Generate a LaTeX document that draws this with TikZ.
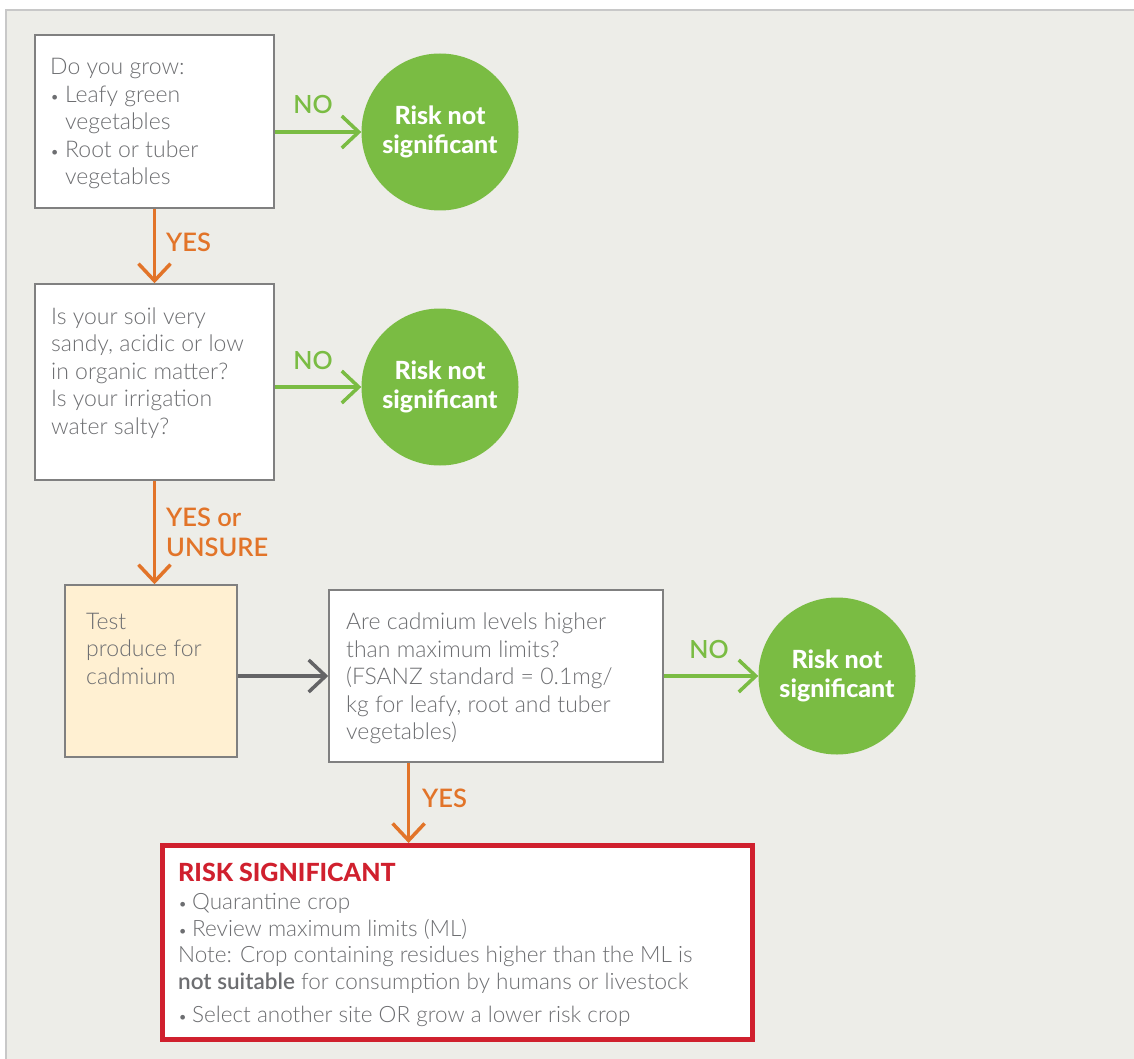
\documentclass[tikz,border=0pt]{standalone}
\usepackage{fontspec}
\setmainfont{Lato}
\newfontfamily\lightfont{Lato Light}
\newfontfamily\semifont{Lato Semibold}
\newfontfamily\heavyfont{Lato Heavy}
\usetikzlibrary{arrows.meta}
\definecolor{bgc}{RGB}{237,237,232}
\definecolor{panelline}{RGB}{200,200,200}
\definecolor{boxline}{RGB}{128,128,128}
\definecolor{txtgray}{RGB}{109,110,113}
\definecolor{grn}{RGB}{122,188,67}
\definecolor{org}{RGB}{226,116,41}
\definecolor{cream}{RGB}{255,240,210}
\definecolor{redc}{RGB}{208,32,46}
\definecolor{arrgray}{RGB}{100,100,102}
\tikzset{
  qbox/.style={draw=boxline, line width=1.5pt, fill=white, rectangle, inner sep=0pt},
  body/.style={text=txtgray, font=\lightfont\fontsize{23}{27.4}\selectfont, align=left, inner sep=0pt, anchor=base west},
  okcircle/.style={circle, fill=grn, minimum size=157pt, inner sep=0pt, text=white, align=center,
     font=\heavyfont\fontsize{25}{29.5}\selectfont},
  conn/.style={line width=3.5pt, -{Straight Barb[length=17pt, width=32pt, line width=3.5pt]}},
  nolab/.style={text=grn, font=\semifont\fontsize{25}{29}\selectfont, inner sep=0pt},
  yeslab/.style={text=org, font=\semifont\fontsize{25.5}{30}\selectfont, inner sep=0pt, align=left},
}
\newcommand{\bul}[1]{\makebox[#1][l]{\fontsize{16}{16}\selectfont•}}
\begin{document}
\begin{tikzpicture}[x=1pt,y=-1pt]
\useasboundingbox (0,0) rectangle (1134,1059);
\fill[white] (0,0) rectangle (1134,1059);
\fill[bgc] (6,10) rectangle (1134,1059);
\draw[panelline, line width=1.5pt] (6,1059) -- (6,10) -- (1134,10);

% boxes
\node[qbox, minimum width=239pt, minimum height=173pt] (q1) at (154.5,121.5) {};
\node[qbox, minimum width=239pt, minimum height=196pt] (q2) at (154.5,382) {};
\node[qbox, fill=cream, minimum width=172pt, minimum height=172pt] (q3) at (151,671) {};
\node[qbox, minimum width=334pt, minimum height=172pt] (q4) at (496,676) {};
\node[draw=redc, line width=5pt, fill=white, rectangle, inner sep=0pt, minimum width=590pt, minimum height=194pt] (rs) at (457.5,942.5) {};

% box texts (anchor = baseline of the last line)
\node[body] (t1) at (50,184.6) {Do you grow:\\
\bul{15pt}Leafy green\\
\hspace*{15pt}vegetables\\
\bul{15pt}Root or tuber\\
\hspace*{15pt}vegetables};
\node[body] (t2) at (51,434.1) {Is your soil very\\sandy, acidic or low\\in organic matter?\\Is your irrigation\\water salty?};
\node[body] (t3) at (86,684.3) {Test\\produce for\\cadmium};
\node[body] (t4) at (346,739.5) {Are cadmium levels higher\\than maximum limits?\\(FSANZ standard = 0.1mg/\\kg for leafy, root and tuber\\vegetables)};
\node[inner sep=0pt, anchor=base west, text=redc, font=\heavyfont\fontsize{25}{27}\selectfont] (rt) at (178,881.5) {RISK SIGNIFICANT};
\node[body, font=\lightfont\fontsize{22.5}{26.7}\selectfont] (rb) at (178,989.6) {\bul{14pt}Quarantine crop\\
\bul{14pt}Review maximum limits (ML)\\
Note: Crop containing residues higher than the ML is\\
{\bfseries not suitable} for consumption by humans or livestock};
\node[body, font=\lightfont\fontsize{22.5}{26.7}\selectfont] (rc) at (178,1022.5) {\bul{14pt}Select another site OR grow a lower risk crop};

% circles
\node[okcircle] (c1) at (440,132) {Risk not\\significant};
\node[okcircle] (c2) at (440,387) {Risk not\\significant};
\node[okcircle] (c3) at (837,676) {Risk not\\significant};

% connectors
\draw[conn, grn] (q1.east |- c1.west) -- (c1.west);
\draw[conn, grn] (q2.east |- c2.west) -- (c2.west);
\draw[conn, grn] (q4.east |- c3.west) -- (c3.west);
\draw[conn, org] (q1.south) -- (q2.north);
\draw[conn, org] (q2.south) -- (q2.south |- q3.north);
\draw[conn, arrgray] (q3.east |- q4.west) -- (q4.west);
\coordinate (ys) at ([xshift=-87.4pt]q4.south);
\draw[conn, org] (ys) -- (ys |- rs.north);

% labels
\node[nolab] (n1) at (313,104) {NO};
\node[nolab] (n2) at (313,360) {NO};
\node[nolab] (n3) at (709,649) {NO};
\node[yeslab, anchor=west] (y1) at (166,242) {YES};
\node[yeslab, anchor=base west] (y2) at (166,556) {YES or\\UNSURE};
\node[yeslab, anchor=west] (y3) at (422,798) {YES};
\end{tikzpicture}
\end{document}
